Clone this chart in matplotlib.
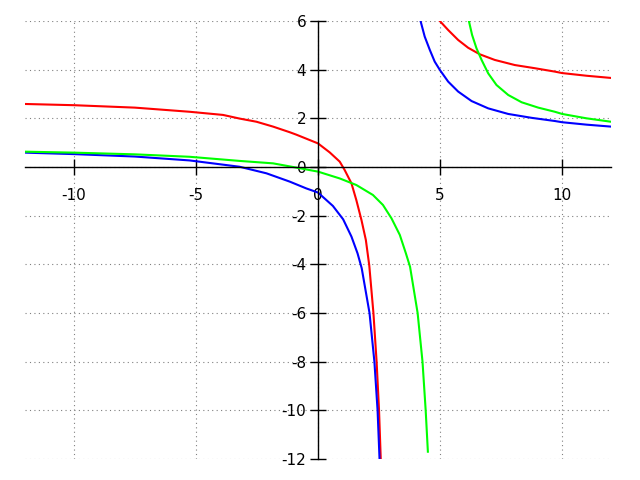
import matplotlib
matplotlib.use("Agg")
import matplotlib.pyplot as plt

# Curve samples (x, y)
red_left_x = [-12.0, -10.0, -7.5, -5.26, -3.89, -3.21, -2.52, -1.84, -1.16, -0.89, 0.0, 0.48, 0.89, 1.09,
              1.37, 1.57, 1.78, 1.96, 2.10, 2.27, 2.40, 2.50, 2.57]
red_left_y = [2.59, 2.54, 2.44, 2.27, 2.14, 1.99, 1.86, 1.66, 1.43, 1.33, 0.97, 0.6, 0.22, -0.12,
              -0.67, -1.36, -2.18, -3.0, -4.05, -6.0, -8.0, -10.0, -12.0]
red_right_x = [4.99, 5.33, 5.74, 6.15, 6.63, 7.24, 8.06, 8.88, 9.7, 10.0, 11.0, 12.0]
red_right_y = [6.0, 5.63, 5.22, 4.9, 4.63, 4.40, 4.19, 4.06, 3.92, 3.86, 3.75, 3.66]

blue_left_x = [-12.0, -10.0, -7.5, -5.26, -3.21, -2.11, -1.16, -0.48, 0.0, 0.61, 1.03, 1.37, 1.62, 1.79,
               2.11, 2.31, 2.44, 2.52]
blue_left_y = [0.59, 0.53, 0.43, 0.27, 0.01, -0.26, -0.6, -0.88, -1.05, -1.6, -2.15, -2.86, -3.55, -4.16,
               -6.0, -8.0, -10.0, -12.0]
blue_right_x = [4.2, 4.37, 4.58, 4.78, 4.99, 5.33, 5.74, 6.29, 6.97, 7.79, 8.75, 9.7, 10.0, 11.0, 12.0]
blue_right_y = [6.0, 5.36, 4.81, 4.33, 3.99, 3.51, 3.1, 2.71, 2.41, 2.18, 2.02, 1.89, 1.84, 1.74, 1.66]

green_left_x = [-12.0, -10.0, -7.5, -5.26, -3.21, -1.84, -0.75, 0.0, 0.89, 1.57, 2.25, 2.66, 3.01, 3.35,
                3.60, 3.77, 4.08, 4.28, 4.41, 4.50]
green_left_y = [0.63, 0.59, 0.52, 0.42, 0.25, 0.15, -0.05, -0.19, -0.47, -0.74, -1.15, -1.56, -2.11, -2.79,
                -3.55, -4.1, -6.0, -8.0, -10.0, -11.7]
green_right_x = [6.18, 6.31, 6.49, 6.7, 6.97, 7.31, 7.79, 8.34, 9.02, 9.7, 10.0, 11.0, 12.0]
green_right_y = [6.0, 5.43, 4.88, 4.40, 3.85, 3.37, 2.96, 2.66, 2.44, 2.27, 2.18, 2.0, 1.86]

xticks = [-10, -5, 0, 5, 10]
yticks = [-12, -10, -8, -6, -4, -2, 0, 2, 4, 6]

fig = plt.figure(figsize=(6.4, 4.8), dpi=100)
ax = fig.add_axes([25 / 640, 21 / 480, 586 / 640, 438 / 480])

lw = 1.5
ax.plot(red_left_x, red_left_y, color="#ff0000", lw=lw, solid_joinstyle="round")
ax.plot(red_right_x, red_right_y, color="#ff0000", lw=lw, solid_joinstyle="round")
ax.plot(blue_left_x, blue_left_y, color="#0000ff", lw=lw, solid_joinstyle="round")
ax.plot(blue_right_x, blue_right_y, color="#0000ff", lw=lw, solid_joinstyle="round")
ax.plot(green_left_x, green_left_y, color="#00ff00", lw=lw, solid_joinstyle="round")
ax.plot(green_right_x, green_right_y, color="#00ff00", lw=lw, solid_joinstyle="round")

ax.set_xlim(-12, 12)
ax.set_ylim(-12, 6)
ax.set_xticks(xticks)
ax.set_yticks(yticks)
ax.set_xticklabels([str(t) for t in xticks])
ax.set_yticklabels([str(t) for t in yticks])

for s in ["top", "right"]:
    ax.spines[s].set_visible(False)
ax.spines["left"].set_position(("data", 0))
ax.spines["bottom"].set_position(("data", 0))
ax.spines["left"].set_linewidth(1.0)
ax.spines["bottom"].set_linewidth(1.0)

ax.tick_params(axis="both", direction="inout", length=11, width=1.0, labelsize=11)
ax.tick_params(axis="x", pad=9.5)
ax.tick_params(axis="y", pad=3)

ax.grid(True, linestyle=(0, (1, 3)), color="gray", linewidth=0.8)
ax.set_axisbelow(True)

fig.savefig("out.png", dpi=100)
